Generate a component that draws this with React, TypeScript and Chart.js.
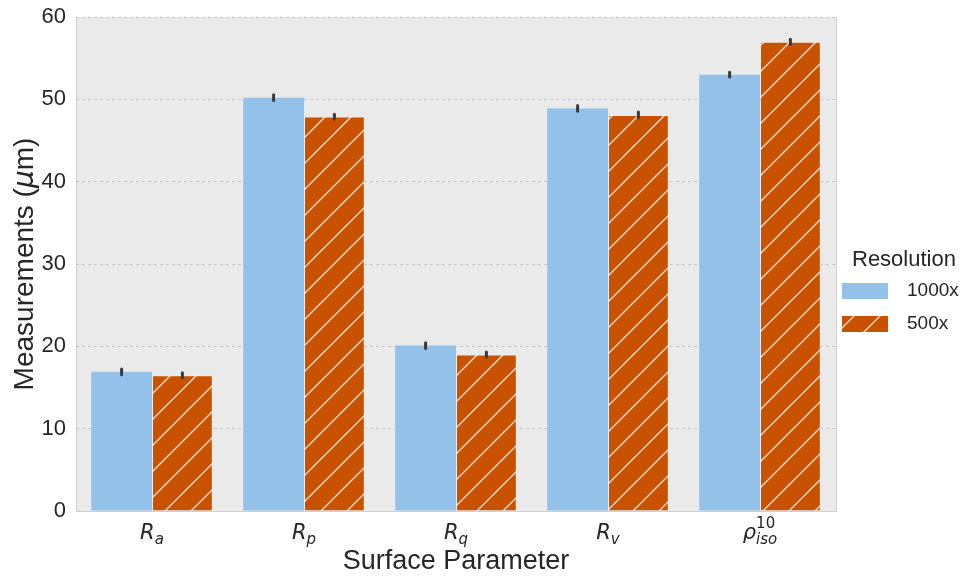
import React, { useEffect, useRef } from "react";
import { Chart, registerables } from "chart.js";

Chart.register(...registerables);

// Surface parameters on the x axis (math-style labels: base, subscript, superscript)
const labelBase = ["R", "R", "R", "R", "ρ"];
const labelSub = ["a", "p", "q", "v", "iso"];
const labelSup = ["", "", "", "", "10"];
const categories = ["Ra", "Rp", "Rq", "Rv", "rho_iso10"];

// Series
const resolutions = ["1000x", "500x"];
const values1000 = [16.9, 50.2, 20.1, 48.9, 53.0];
const values500 = [16.5, 47.9, 19.0, 48.1, 57.0];
const err1000 = [0.35, 0.35, 0.35, 0.35, 0.3];
const err500 = [0.3, 0.3, 0.3, 0.35, 0.3];

// Y axis
const yMin = 0;
const yMax = 60;
const yStep = 10;

const BLUE = "#94C1EA";
const ORANGE = "#C85200";
const TEXT = "#262626";
const SANS = "'Liberation Sans', Arial, sans-serif";
const MATH = "'DejaVu Sans', sans-serif";

function makeHatch(): CanvasPattern | string {
  const s = 26;
  const c = document.createElement("canvas");
  c.width = s;
  c.height = s;
  const g = c.getContext("2d");
  if (!g) return ORANGE;
  g.fillStyle = ORANGE;
  g.fillRect(0, 0, s, s);
  g.strokeStyle = "rgba(255,255,255,0.8)";
  g.lineWidth = 1.4;
  g.beginPath();
  g.moveTo(0, s);
  g.lineTo(s, 0);
  g.moveTo(-2, 2);
  g.lineTo(2, -2);
  g.moveTo(s - 2, s + 2);
  g.lineTo(s + 2, s - 2);
  g.stroke();
  const p = g.createPattern(c, "repeat");
  return p || ORANGE;
}

export default function App() {
  const ref = useRef<HTMLCanvasElement | null>(null);

  useEffect(() => {
    const canvas = ref.current;
    if (!canvas) return;
    const hatch = makeHatch();
    const errors = [err1000, err500];

    const frame = {
      id: "frame",
      beforeDatasetsDraw(chart: any) {
        const { ctx, chartArea: a } = chart;
        ctx.save();
        ctx.fillStyle = "#EAEAEA";
        ctx.globalCompositeOperation = "destination-over";
        ctx.fillRect(a.left, a.top, a.right - a.left, a.bottom - a.top);
        ctx.restore();
      },
      afterDraw(chart: any) {
        const { ctx, chartArea: a, scales } = chart;
        ctx.save();
        // plot frame
        ctx.strokeStyle = "#CFCFCF";
        ctx.lineWidth = 1;
        ctx.beginPath();
        ctx.moveTo(a.left + 0.5, a.top);
        ctx.lineTo(a.left + 0.5, a.bottom + 0.5);
        ctx.lineTo(a.right + 0.5, a.bottom + 0.5);
        ctx.lineTo(a.right + 0.5, a.top);
        ctx.stroke();

        // x tick labels in math style
        const xs = scales.x;
        ctx.fillStyle = TEXT;
        ctx.textBaseline = "alphabetic";
        ctx.textAlign = "left";
        for (let i = 0; i < categories.length; i++) {
          const cx = xs.getPixelForValue(i);
          ctx.font = `oblique 21px ${MATH}`;
          const wb = ctx.measureText(labelBase[i]).width;
          ctx.font = `oblique 15px ${MATH}`;
          const wsub = ctx.measureText(labelSub[i]).width;
          ctx.font = `15px ${MATH}`;
          const wsup = labelSup[i] ? ctx.measureText(labelSup[i]).width : 0;
          const total = wb + Math.max(wsub, wsup);
          const x0 = cx - total / 2;
          const base = 539;
          ctx.font = `oblique 21px ${MATH}`;
          ctx.fillText(labelBase[i], x0, base);
          ctx.font = `oblique 15px ${MATH}`;
          ctx.fillText(labelSub[i], x0 + wb, base + 5);
          if (labelSup[i]) {
            ctx.font = `15px ${MATH}`;
            ctx.fillText(labelSup[i], x0 + wb, base - 11);
          }
        }

        // x axis title
        ctx.font = `27px ${SANS}`;
        ctx.textAlign = "center";
        ctx.fillText("Surface Parameter", (a.left + a.right) / 2, 569);

        // y axis title with italic mu
        ctx.save();
        ctx.translate(33, (a.top + a.bottom) / 2);
        ctx.rotate(-Math.PI / 2);
        const p1 = "Measurements (";
        const p2 = "μ";
        const p3 = "m)";
        ctx.font = `28px ${SANS}`;
        const w1 = ctx.measureText(p1).width;
        const w3 = ctx.measureText(p3).width;
        ctx.font = `oblique 28px ${MATH}`;
        const w2 = ctx.measureText(p2).width;
        let x = -(w1 + w2 + w3) / 2;
        ctx.textAlign = "left";
        ctx.font = `28px ${SANS}`;
        ctx.fillText(p1, x, 0);
        x += w1;
        ctx.font = `oblique 28px ${MATH}`;
        ctx.fillText(p2, x, 0);
        x += w2;
        ctx.font = `28px ${SANS}`;
        ctx.fillText(p3, x, 0);
        ctx.restore();

        // legend
        ctx.textAlign = "left";
        ctx.font = `22px ${SANS}`;
        ctx.fillStyle = TEXT;
        ctx.fillText("Resolution", 852, 266);
        const fills = [BLUE, hatch];
        const boxTops = [283, 316];
        for (let k = 0; k < resolutions.length; k++) {
          ctx.fillStyle = fills[k] as any;
          ctx.fillRect(842, boxTops[k], 46, 16);
          ctx.fillStyle = TEXT;
          ctx.font = `19px ${SANS}`;
          ctx.textBaseline = "middle";
          ctx.fillText(resolutions[k], 907, boxTops[k] + 8);
          ctx.textBaseline = "alphabetic";
        }
        ctx.restore();
      },
      afterDatasetsDraw(chart: any) {
        const { ctx, scales } = chart;
        const ys = scales.y;
        ctx.save();
        ctx.strokeStyle = "#3A3A3A";
        ctx.lineWidth = 3;
        ctx.lineCap = "round";
        chart.data.datasets.forEach((ds: any, di: number) => {
          const meta = chart.getDatasetMeta(di);
          meta.data.forEach((bar: any, i: number) => {
            const v = ds.data[i];
            const e = errors[di][i];
            ctx.beginPath();
            ctx.moveTo(bar.x, ys.getPixelForValue(v - e));
            ctx.lineTo(bar.x, ys.getPixelForValue(v + e));
            ctx.stroke();
          });
        });
        ctx.restore();
      },
    };

    const chart = new Chart(canvas, {
      type: "bar",
      data: {
        labels: categories,
        datasets: [
          {
            label: resolutions[0],
            data: values1000,
            backgroundColor: BLUE,
            borderWidth: 0,
            barPercentage: 1,
            categoryPercentage: 0.8,
          },
          {
            label: resolutions[1],
            data: values500,
            backgroundColor: hatch as any,
            borderColor: "rgba(255,255,255,0.35)",
            borderWidth: 1,
            barPercentage: 1,
            categoryPercentage: 0.8,
          },
        ],
      },
      options: {
        animation: false,
        responsive: true,
        maintainAspectRatio: false,
        layout: { padding: { top: 17, right: 135, bottom: 0, left: 0 } },
        plugins: {
          legend: { display: false },
          tooltip: { enabled: false },
        },
        scales: {
          x: {
            grid: { display: false },
            border: { display: false },
            ticks: { display: false },
            afterFit: (s: any) => {
              s.height = 68;
              s.paddingLeft = 0;
              s.paddingRight = 0;
            },
          },
          y: {
            min: yMin,
            max: yMax,
            grid: {
              color: "#C6C6C6",
              lineWidth: 1,
              drawTicks: false,
            },
            border: { display: false, dash: [3, 3] },
            ticks: {
              stepSize: yStep,
              padding: 10,
              color: TEXT,
              font: { family: SANS, size: 22 },
            },
            afterFit: (s: any) => {
              s.width = 76;
              s.paddingTop = 0;
              s.paddingBottom = 0;
            },
          },
        },
      },
      plugins: [frame],
    });

    return () => chart.destroy();
  }, []);

  return (
    <div style={{ position: "absolute", left: 0, top: 0, width: 971, height: 579, background: "#fff" }}>
      <canvas ref={ref} />
    </div>
  );
}
